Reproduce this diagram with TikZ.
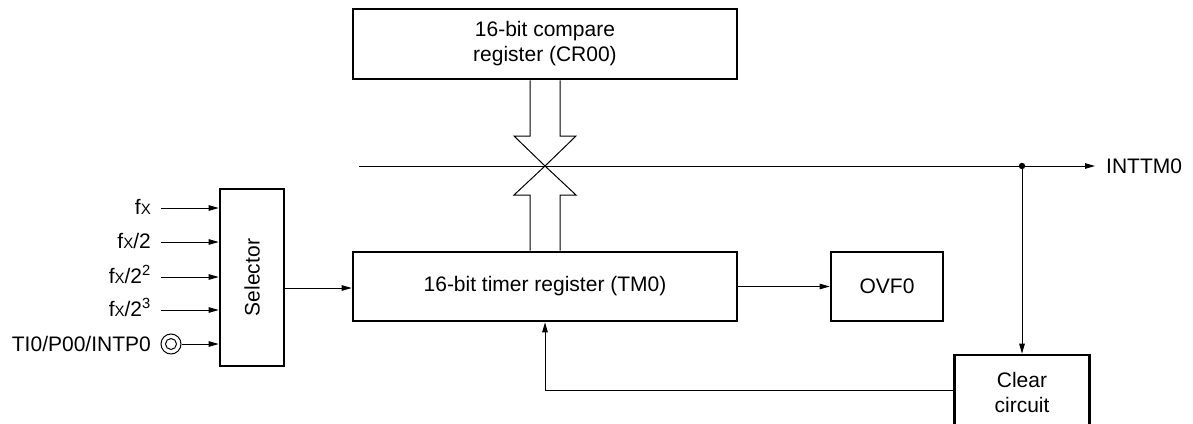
\documentclass[tikz,border=0pt]{standalone}
\usepackage{fontspec}
\setmainfont{Liberation Sans}
\usetikzlibrary{arrows.meta,calc}
\begin{document}
\begin{tikzpicture}[x=1pt,y=-1pt,
  txt/.style={font=\fontsize{21}{25}\selectfont, inner sep=0pt},
  blk/.style={draw, line width=2.6pt, rectangle, inner sep=0pt, align=center, font=\fontsize{21}{25}\selectfont},
  wire/.style={line width=1pt},
  arr/.style={wire, -{Triangle[length=10pt,width=5.5pt]}},
  bus/.style={line width=1pt, line join=miter}
]
\useasboundingbox (0,0) rectangle (1193,423);
\clip (0,0) rectangle (1193,423);

% blocks
\node[blk, minimum width=384pt, minimum height=70pt] (cr) at (545,44) {16-bit compare\\register (CR00)};
\node[blk, minimum width=384pt, minimum height=69pt] (tm) at (545,286.5) {16-bit timer register (TM0)};
\node[blk, minimum width=112pt, minimum height=69pt] (ovf) at (887,286.5) {OVF0};
\node[blk, minimum width=64pt, minimum height=177pt] (sel) at (252,277.5) {};
\node[txt, rotate=90] (seltxt) at (sel.center) {Selector};
\node[blk, minimum width=135pt, minimum height=75pt] (clr) at (1022,392.5) {Clear\\circuit};

% horizontal INTTM0 line
\coordinate (hstart) at (359,166);
\coordinate (dot) at (1022,166);
\coordinate (hend) at (1095,166);
\node[txt, anchor=west] (inttm) at (1106,166) {INTTM0};
\draw[arr] (hstart) -- (hend);
\fill (dot) circle (3.2pt);
\draw[arr] (dot) -- (clr.north);

% bus arrows (cross)
\coordinate (x0) at (545,166);
\draw[bus] ($(cr.south)+(-15,0)$) -- (530,136) -- (514,136) -- (x0) -- (576,136) -- (560,136) -- ($(cr.south)+(15,0)$);
\draw[bus] ($(tm.north)+(-15,0)$) -- (530,195) -- (514,195) -- (x0) -- (576,195) -- (560,195) -- ($(tm.north)+(15,0)$);

% selector to timer
\draw[arr] (sel.east |- 0,288) -- (tm.west |- 0,288);
% timer to OVF0
\draw[arr] (tm.east) -- (ovf.west);
% feedback
\coordinate (fb) at (545,390);
\draw[arr] (clr.west |- fb) -- (fb) -- (tm.south);

% inputs
\node[txt, anchor=base east] (l1) at (151,214) {f{\fontsize{15}{15}\selectfont X}};
\node[txt, anchor=base east] (l2) at (151,248) {f{\fontsize{15}{15}\selectfont X}/2};
\node[txt, anchor=base east] (l3) at (151,283) {f{\fontsize{15}{15}\selectfont X}/2\textsuperscript{2}};
\node[txt, anchor=base east] (l4) at (151,316) {f{\fontsize{15}{15}\selectfont X}/2\textsuperscript{3}};
\node[txt, anchor=base east] (l5) at (151,351) {TI0/P00/INTP0};
\coordinate (i1) at (161,208);
\coordinate (i2) at (161,242);
\coordinate (i3) at (161,277);
\coordinate (i4) at (161,310);
\draw[arr] (i1) -- (i1 -| sel.west);
\draw[arr] (i2) -- (i2 -| sel.west);
\draw[arr] (i3) -- (i3 -| sel.west);
\draw[arr] (i4) -- (i4 -| sel.west);
\node[draw, circle, line width=1pt, minimum size=20pt, inner sep=0pt] (pin) at (171,344) {};
\draw[wire] (pin.center) circle (5.5pt);
\draw[arr] (pin.east) -- (pin.east -| sel.west);
\end{tikzpicture}
\end{document}
